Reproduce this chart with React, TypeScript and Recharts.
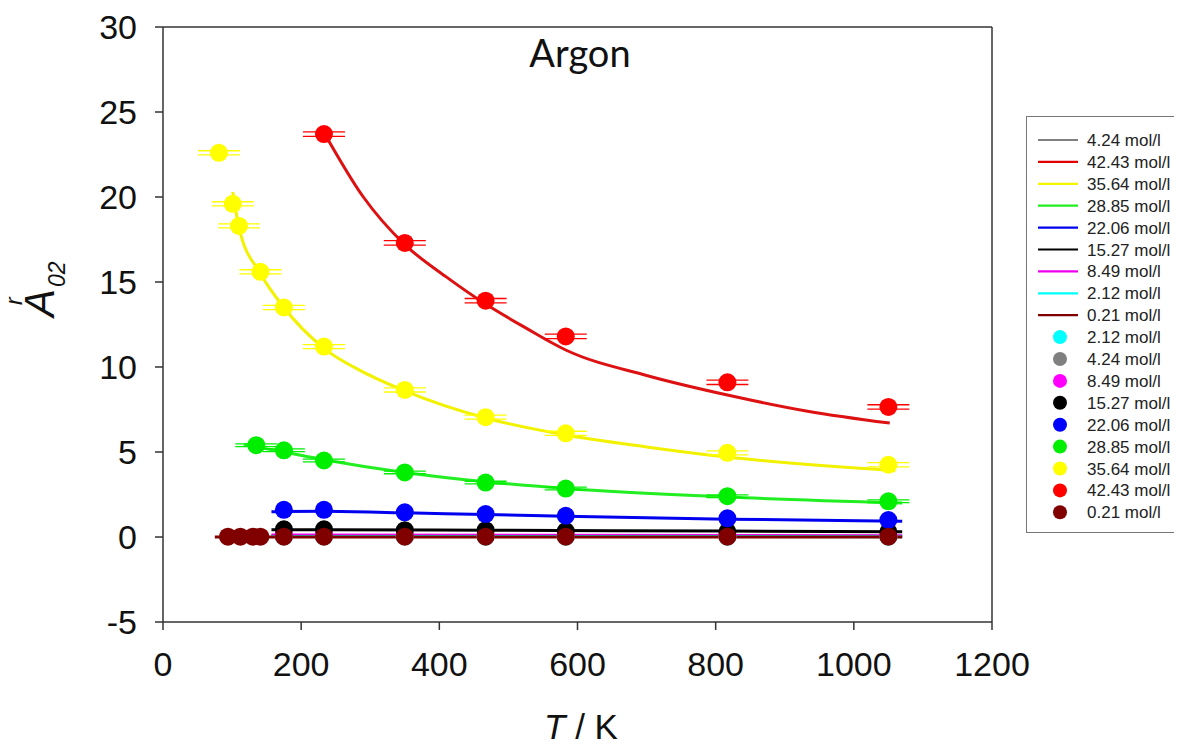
import React from "react";
import {
  ComposedChart,
  Line,
  Scatter,
  XAxis,
  YAxis,
  ReferenceLine,
  ErrorBar,
} from "recharts";

// ---- measured points (T in K, A02r) ----
const redT = [233, 350, 467, 583, 817, 1050];
const redA = [23.7, 17.3, 13.9, 11.8, 9.1, 7.65];
const yellowT = [81, 101, 110, 141, 175, 233, 350, 467, 583, 817, 1050];
const yellowA = [22.6, 19.6, 18.3, 15.6, 13.5, 11.2, 8.65, 7.05, 6.1, 4.95, 4.25];
const greenT = [135, 175, 233, 350, 467, 583, 817, 1050];
const greenA = [5.4, 5.1, 4.5, 3.8, 3.2, 2.85, 2.4, 2.1];
const midT = [175, 233, 350, 467, 583, 817, 1050];
const blueA = [1.6, 1.6, 1.45, 1.35, 1.25, 1.1, 1.0];
const blackA = [0.45, 0.45, 0.4, 0.4, 0.35, 0.3, 0.3];
const magentaA = [0.15, 0.15, 0.13, 0.12, 0.12, 0.1, 0.1];
const grayA = [0.06, 0.06, 0.05, 0.05, 0.05, 0.04, 0.04];
const cyanA = [0.03, 0.03, 0.03, 0.02, 0.02, 0.02, 0.02];
const maroonT = [94, 112, 130, 141, 175, 233, 350, 467, 583, 817, 1050];
const maroonA = [0.02, 0.02, 0.02, 0.02, 0.02, 0.02, 0.02, 0.02, 0.02, 0.02, 0.02];
const errRed = [0.13, 0.13, 0.13, 0.13, 0.13, 0.13];
const errYellow = [0.12, 0.12, 0.12, 0.12, 0.12, 0.12, 0.12, 0.12, 0.12, 0.12, 0.12];
const errGreen = [0.08, 0.08, 0.08, 0.08, 0.08, 0.08, 0.08, 0.08];

// ---- fitted curves ----
const redFitT = [233, 290, 350, 410, 467, 525, 583, 700, 817, 933, 1052];
const redFitA = [23.8, 20.0, 17.2, 15.3, 13.7, 12.3, 11.0, 9.5, 8.35, 7.4, 6.7];
const yellowFitT = [101, 110, 141, 175, 233, 290, 350, 467, 583, 700, 817, 1060];
const yellowFitA = [20.3, 18.2, 15.5, 13.5, 11.1, 9.7, 8.6, 7.0, 6.0, 5.3, 4.7, 3.9];
const greenFitT = [117, 135, 175, 233, 350, 467, 583, 817, 1070];
const greenFitA = [5.45, 5.3, 5.0, 4.55, 3.8, 3.25, 2.85, 2.35, 2.0];
const blueFitT = [157, 175, 233, 350, 467, 583, 817, 1070];
const blueFitA = [1.48, 1.5, 1.52, 1.42, 1.32, 1.22, 1.05, 0.93];
const blackFitT = [157, 233, 467, 817, 1070];
const blackFitA = [0.43, 0.43, 0.4, 0.35, 0.31];
const lowFitT = [157, 1070];
const magentaFitA = [0.12, 0.08];
const grayFitA = [0.05, 0.04];
const cyanFitA = [0.03, 0.02];
const maroonFitT = [75, 1070];
const maroonFitA = [0.0, 0.0];

const xTicks = [0, 200, 400, 600, 800, 1000, 1200];
const yTicks = [-5, 0, 5, 10, 15, 20, 25, 30];

const lineLegend = [
  { label: "4.24 mol/l", color: "#808080" },
  { label: "42.43 mol/l", color: "#e00000" },
  { label: "35.64 mol/l", color: "#f5f500" },
  { label: "28.85 mol/l", color: "#22ee22" },
  { label: "22.06 mol/l", color: "#0000ee" },
  { label: "15.27 mol/l", color: "#000000" },
  { label: "8.49 mol/l", color: "#ee00ee" },
  { label: "2.12 mol/l", color: "#00ffff" },
  { label: "0.21 mol/l", color: "#800000" },
];
const dotLegend = [
  { label: "2.12 mol/l", color: "#00ffff" },
  { label: "4.24 mol/l", color: "#808080" },
  { label: "8.49 mol/l", color: "#ff00ff" },
  { label: "15.27 mol/l", color: "#000000" },
  { label: "22.06 mol/l", color: "#0000ff" },
  { label: "28.85 mol/l", color: "#00ee00" },
  { label: "35.64 mol/l", color: "#ffff00" },
  { label: "42.43 mol/l", color: "#ff0000" },
  { label: "0.21 mol/l", color: "#800000" },
];

const zip = (t: number[], v: number[], e?: number[]) =>
  t.map((T, i) => (e ? { T, v: v[i], e: e[i] } : { T, v: v[i] }));

const dot = (color: string) => (p: any) =>
  <circle cx={p.cx} cy={p.cy} r={9} fill={color} />;

const FONT = "'Liberation Sans', Arial, sans-serif";

const fits = [
  { d: zip(lowFitT, grayFitA), c: "#808080" },
  { d: zip(redFitT, redFitA), c: "#dd1111" },
  { d: zip(yellowFitT, yellowFitA), c: "#f2f200" },
  { d: zip(greenFitT, greenFitA), c: "#22ee22" },
  { d: zip(blueFitT, blueFitA), c: "#0000ee" },
  { d: zip(blackFitT, blackFitA), c: "#000000" },
  { d: zip(lowFitT, magentaFitA), c: "#ee00ee" },
  { d: zip(lowFitT, cyanFitA), c: "#00ffff" },
  { d: zip(maroonFitT, maroonFitA), c: "#800000" },
];

const points = [
  { d: zip(midT, cyanA), c: "#00ffff" },
  { d: zip(midT, grayA), c: "#808080" },
  { d: zip(midT, magentaA), c: "#ff00ff" },
  { d: zip(midT, blackA), c: "#000000" },
  { d: zip(midT, blueA), c: "#0000ff" },
  { d: zip(greenT, greenA, errGreen), c: "#00ee00", err: true },
  { d: zip(yellowT, yellowA, errYellow), c: "#ffff00", err: true },
  { d: zip(redT, redA, errRed), c: "#ff0000", err: true },
  { d: zip(maroonT, maroonA), c: "#800000" },
];

const Legend = () => {
  const rows = [
    ...lineLegend.map((r) => ({ ...r, kind: "line" })),
    ...dotLegend.map((r) => ({ ...r, kind: "dot" })),
  ];
  return (
    <svg
      width={155}
      height={418}
      style={{ position: "absolute", left: 1026, top: 116 }}
    >
      <rect x={0.5} y={0.5} width={153} height={416} fill="#fff" stroke="#777" strokeWidth={1} />
      {rows.map((r, i) => {
        const cy = 24 + i * 21.9;
        return (
          <g key={i}>
            {r.kind === "line" ? (
              <line x1={12} x2={52} y1={cy} y2={cy} stroke={r.color} strokeWidth={2.2} />
            ) : (
              <circle cx={34} cy={cy} r={7} fill={r.color} />
            )}
            <text x={61} y={cy + 6} fontSize={17} fontFamily={FONT} fill="#222">
              {r.label}
            </text>
          </g>
        );
      })}
    </svg>
  );
};

export default function App() {
  return (
    <div style={{ position: "relative", width: 1182, height: 749, margin: "-8px 0 0 -8px" }}>
      <ComposedChart
        width={1182}
        height={749}
        margin={{ top: 27, right: 190, left: 0, bottom: 0 }}
      >
        <XAxis
          dataKey="T"
          type="number"
          domain={[0, 1200]}
          ticks={xTicks}
          allowDataOverflow
          height={127}
          tickSize={8}
          tickMargin={22}
          stroke="#333"
          strokeWidth={1.5}
          tick={{ fontSize: 34, fontFamily: FONT, fill: "#111" }}
          label={{
            content: () => (
              <g>
                <text x={581} y={739} fontSize={35} fontFamily={FONT} fill="#111" textAnchor="middle">
                  <tspan fontStyle="italic">T</tspan> / K
                </text>
                <text x={580} y={67} fontSize={38} fontFamily="Lato, 'Open Sans', sans-serif" fill="#111" textAnchor="middle">
                  Argon
                </text>
              </g>
            ),
          }}
        />
        <YAxis
          dataKey="v"
          type="number"
          domain={[-5, 30]}
          ticks={yTicks}
          allowDataOverflow
          width={163}
          tickSize={8}
          tickMargin={18}
          stroke="#333"
          strokeWidth={1.5}
          tick={{ fontSize: 34, fontFamily: FONT, fill: "#111" }}
          label={{
            content: () => (
              <g transform="translate(54,317) rotate(-90)">
                <text x={0} y={0} fontSize={42} fontFamily={FONT} fontStyle="italic" fill="#111">
                  A
                </text>
                <text x={30} y={11} fontSize={23} fontFamily={FONT} fontStyle="italic" fill="#111">
                  02
                </text>
                <text x={12} y={-32} fontSize={23} fontFamily={FONT} fontStyle="italic" fill="#111">
                  r
                </text>
              </g>
            ),
          }}
        />
        <ReferenceLine y={30} stroke="#333" strokeWidth={1.5} />
        <ReferenceLine x={1200} stroke="#333" strokeWidth={1.5} />
        {fits.map((f, i) => (
          <Line
            key={"f" + i}
            data={f.d}
            dataKey="v"
            type="monotone"
            stroke={f.c}
            strokeWidth={3}
            dot={false}
            activeDot={false}
            isAnimationActive={false}
          />
        ))}
        {points.map((p, i) => (
          <Scatter
            key={"p" + i}
            data={p.d}
            dataKey="v"
            fill={p.c}
            shape={dot(p.c)}
            isAnimationActive={false}
          >
            {p.err ? (
              <ErrorBar dataKey="e" direction="y" width={21} stroke={p.c} strokeWidth={1.3} />
            ) : null}
          </Scatter>
        ))}
      </ComposedChart>
      <Legend />
    </div>
  );
}
